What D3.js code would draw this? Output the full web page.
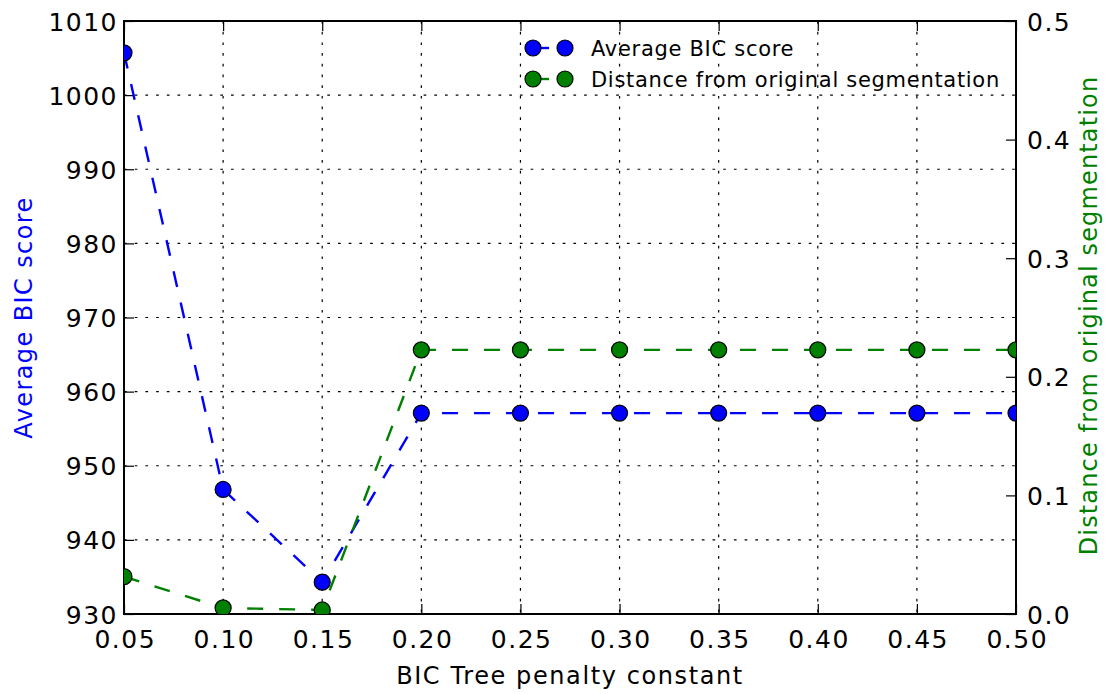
<!DOCTYPE html>
<html>
<head>
<meta charset="utf-8">
<script src="https://cdn.jsdelivr.net/npm/d3@7"></script>
<style>
  html, body { margin: 0; padding: 0; background: #fff; }
  svg { display: block; font-family: "DejaVu Sans", sans-serif; }
</style>
</head>
<body>
<svg id="chart" width="1111" height="694"></svg>
<script>
// Penalty constants tested
const penalty = [0.05, 0.10, 0.15, 0.20, 0.25, 0.30, 0.35, 0.40, 0.45, 0.50];
// Average BIC score per penalty
const bicScore = [1005.7, 946.8, 934.3, 957.1, 957.1, 957.1, 957.1, 957.1, 957.1, 957.1];
// Distance from the original segmentation per penalty
const distance = [0.0315, 0.0051, 0.0034, 0.2227, 0.2227, 0.2227, 0.2227, 0.2227, 0.2227, 0.2227];

const xTicks = [0.05, 0.10, 0.15, 0.20, 0.25, 0.30, 0.35, 0.40, 0.45, 0.50];
const leftTicks = [930, 940, 950, 960, 970, 980, 990, 1000, 1010];
const rightTicks = [0.0, 0.1, 0.2, 0.3, 0.4, 0.5];

const seriesNames = ["Average BIC score", "Distance from original segmentation"];
const xLabel = "BIC Tree penalty constant";

const W = 1111, H = 694;
const m = { left: 124, right: 95, top: 21, bottom: 80 };
const pw = W - m.left - m.right, ph = H - m.top - m.bottom;

const svg = d3.select("#chart");
const g = svg.append("g").attr("transform", `translate(${m.left},${m.top})`);

const x = d3.scaleLinear().domain([0.05, 0.5]).range([0, pw]);
const yL = d3.scaleLinear().domain([930, 1010]).range([ph, 0]);
const yR = d3.scaleLinear().domain([0, 0.5]).range([ph, 0]);

svg.append("defs").append("clipPath").attr("id", "plotclip")
  .append("rect").attr("width", pw).attr("height", ph);

// Dotted grid from the left axis and x axis
const gridDash = "2.7,8";
const grid = g.append("g");
grid.selectAll(".gx").data(xTicks.slice(1, -1)).join("line")
  .attr("x1", d => x(d)).attr("x2", d => x(d)).attr("y1", 0).attr("y2", ph)
  .attr("stroke", "#000").attr("stroke-width", 1.2).attr("stroke-dasharray", gridDash);
grid.selectAll(".gy").data(leftTicks.slice(1, -1)).join("line")
  .attr("y1", d => yL(d)).attr("y2", d => yL(d)).attr("x1", 0).attr("x2", pw)
  .attr("stroke", "#000").attr("stroke-width", 1.2).attr("stroke-dasharray", gridDash);

const fmt2 = d3.format(".2f"), fmt1 = d3.format(".1f");
const tickLen = 10;

// Axes (ticks pointing inward)
const axB = g.append("g").attr("transform", `translate(0,${ph})`)
  .call(d3.axisBottom(x).tickValues(xTicks).tickFormat(fmt2).tickSize(-tickLen).tickPadding(11));
const axT = g.append("g")
  .call(d3.axisTop(x).tickValues(xTicks).tickFormat("").tickSize(-tickLen));
const axL = g.append("g")
  .call(d3.axisLeft(yL).tickValues(leftTicks).tickFormat(d3.format("d")).tickSize(-tickLen).tickPadding(6));
const axR = g.append("g").attr("transform", `translate(${pw},0)`)
  .call(d3.axisRight(yR).tickValues(rightTicks).tickFormat(fmt1).tickSize(-tickLen).tickPadding(11));

[axB, axT, axL, axR].forEach(a => {
  a.select(".domain").remove();
  a.selectAll(".tick line").attr("stroke", "#000").attr("stroke-width", 1.2);
  a.selectAll(".tick text").attr("fill", "#000").style("font-size", "25px")
    .style("letter-spacing", "1.5px")
    .style("font-family", "'DejaVu Sans', sans-serif");
});
axB.selectAll(".tick text").attr("dy", "0.9em").attr("dx", "0.75px");
axL.selectAll(".tick text").attr("dy", "0.36em");
axR.selectAll(".tick text").attr("dy", "0.36em");

// Frame
g.append("rect").attr("width", pw).attr("height", ph)
  .attr("fill", "none").attr("stroke", "#000").attr("stroke-width", 2);

// Series
const lineDash = "16,16";
const markerR = 8;
const plot = g.append("g").attr("clip-path", "url(#plotclip)");
function drawSeries(vals, yScale, color) {
  const pts = penalty.map((p, i) => [x(p), yScale(vals[i])]);
  plot.append("path").attr("d", d3.line()(pts))
    .attr("fill", "none").attr("stroke", color).attr("stroke-width", 2.4)
    .attr("stroke-dasharray", lineDash);
  plot.append("g").selectAll("circle").data(pts).join("circle")
    .attr("cx", d => d[0]).attr("cy", d => d[1]).attr("r", markerR)
    .attr("fill", color).attr("stroke", "#000").attr("stroke-width", 1.2);
}
drawSeries(bicScore, yL, "#0000ff");
drawSeries(distance, yR, "#008000");

// Legend
const legend = g.append("g").attr("transform", `translate(${533 - m.left},${48 - m.top})`);
const colors = ["#0000ff", "#008000"];
seriesNames.forEach((name, i) => {
  const row = legend.append("g").attr("transform", `translate(0,${i * 31})`);
  row.append("line").attr("x1", 0).attr("x2", 32).attr("y1", 0).attr("y2", 0)
    .attr("stroke", colors[i]).attr("stroke-width", 2.4).attr("stroke-dasharray", lineDash);
  [0, 32].forEach(cx => row.append("circle").attr("cx", cx).attr("cy", 0).attr("r", markerR)
    .attr("fill", colors[i]).attr("stroke", "#000").attr("stroke-width", 1.2));
  row.append("text").attr("x", 58).attr("y", 0).attr("dy", "0.4em")
    .style("font-size", "21px").style("letter-spacing", "0.7px").attr("fill", "#000").text(name);
});

// Axis labels
svg.append("text").attr("x", m.left + pw / 2).attr("y", 684)
  .attr("text-anchor", "middle").style("font-size", "24px").style("letter-spacing", "1.6px")
  .attr("fill", "#000").text(xLabel);
svg.append("text").attr("transform", `translate(32,${m.top + ph / 2}) rotate(-90)`)
  .attr("text-anchor", "middle").style("font-size", "24px").style("letter-spacing", "1.4px")
  .attr("fill", "#0000ff").text(seriesNames[0]);
svg.append("text").attr("transform", `translate(1097,${m.top + ph / 2 - 2}) rotate(-90)`)
  .attr("text-anchor", "middle").style("font-size", "24px").style("letter-spacing", "1.15px")
  .attr("fill", "#008000").text(seriesNames[1]);
</script>
</body>
</html>
